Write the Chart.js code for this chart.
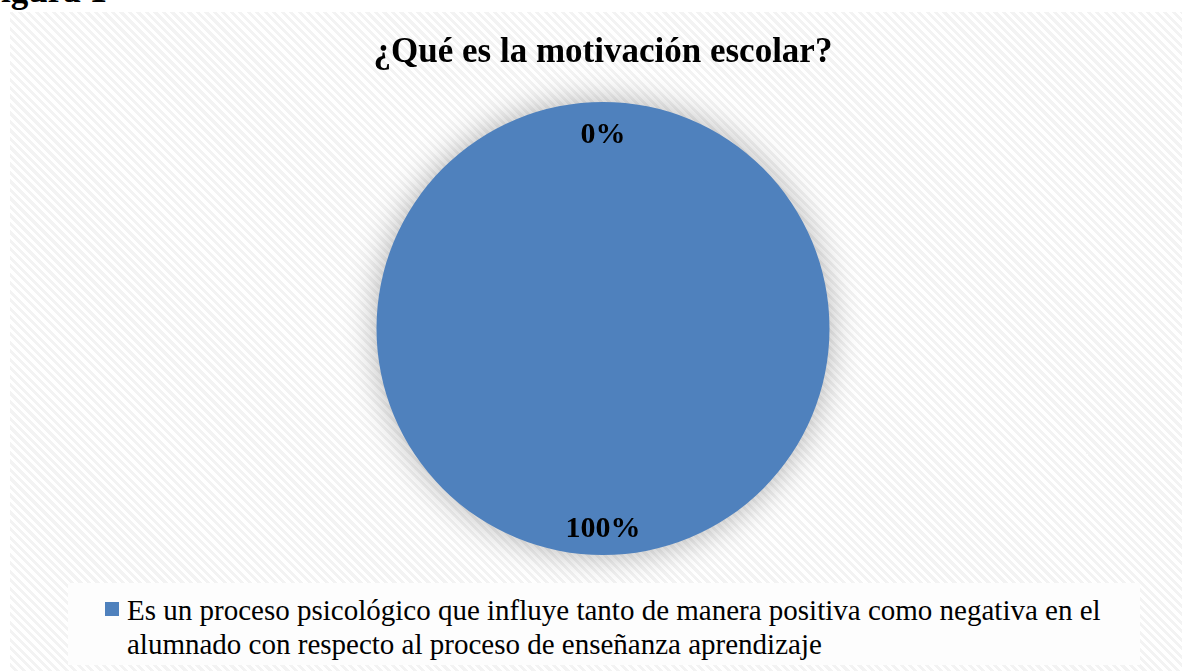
<!DOCTYPE html>
<html>
<head>
<meta charset="utf-8">
<script src="https://cdn.jsdelivr.net/npm/chart.js@4"></script>
<style>
  html, body { margin: 0; padding: 0; background: #fff; width: 1182px; height: 671px; overflow: hidden; position: relative; }
  #fig { position: absolute; right: 1075px; top: -29px; font: bold 35px "Liberation Serif", serif; white-space: nowrap; color: #000; }
  #box {
    position: absolute; left: 10px; top: 12px; width: 1186px; height: 659px;
    background: repeating-linear-gradient(45deg, #ffffff 0px, #ffffff 3px, #f3f3f3 3px, #f3f3f3 6px);
  }
  #box canvas { position: absolute; left: 0; top: 0; }
  #legend {
    position: absolute; left: 58px; top: 571px; width: 1072px; height: 82px;
    background: #fdfdfd; font: 29px "Liberation Serif", serif; color: #000; line-height: 34px;
  }
  #legend .sw { position: absolute; left: 37px; top: 19px; width: 14px; height: 14px; }
  #legend .tx { position: absolute; left: 59px; top: 10px; white-space: nowrap; }
</style>
</head>
<body>
<div id="fig">Figura 1</div>
<div id="box">
  <canvas id="myChart" width="1186" height="659"></canvas>
  <div id="legend"></div>
</div>
<script>
const title = "¿Qué es la motivación escolar?";
const categories = [
  ["Es un proceso psicológico que influye tanto de manera positiva como negativa en el",
   "alumnado con respecto al proceso de enseñanza aprendizaje"],
  ["Otro"]
];
const values = [100, 0];
const colors = ["#4f81bd", "#c0504d"];

const pieShadow = {
  id: "pieShadow",
  beforeDatasetDraw(chart) {
    const ctx = chart.ctx;
    ctx.save();
    ctx.shadowColor = "rgba(0,0,0,0.3)";
    ctx.shadowBlur = 32;
    ctx.shadowOffsetX = 0;
    ctx.shadowOffsetY = 0;
  },
  afterDatasetDraw(chart) {
    chart.ctx.restore();
  }
};

const pctLabels = {
  id: "pctLabels",
  afterDatasetsDraw(chart) {
    const ctx = chart.ctx;
    const total = values.reduce((a, b) => a + b, 0);
    chart.getDatasetMeta(0).data.forEach((arc, i) => {
      const mid = (arc.startAngle + arc.endAngle) / 2;
      const r = arc.outerRadius * 0.87;
      const x = arc.x + Math.cos(mid) * r;
      const y = arc.y + Math.sin(mid) * r + 4;
      ctx.save();
      ctx.font = "bold 30px 'Liberation Serif', serif";
      ctx.fillStyle = "#000";
      ctx.textAlign = "center";
      ctx.textBaseline = "middle";
      ctx.fillText(Math.round(values[i] / total * 100) + "%", x, y);
      ctx.restore();
    });
  }
};

const chart = new Chart(document.getElementById("myChart"), {
  type: "pie",
  data: {
    labels: categories,
    datasets: [{
      data: values,
      backgroundColor: colors,
      borderWidth: 0
    }]
  },
  options: {
    responsive: false,
    animation: false,
    events: [],
    layout: { padding: { top: 0, bottom: 116 } },
    plugins: {
      legend: { display: false },
      tooltip: { enabled: false },
      title: {
        display: true,
        text: title,
        color: "#000",
        font: { family: "'Liberation Serif', serif", size: 35, weight: "bold", lineHeight: 1.2 },
        padding: { top: 20, bottom: 28 }
      }
    }
  },
  plugins: [pieShadow, pctLabels]
});

// legend: only the first category is shown
const leg = document.getElementById("legend");
const sw = document.createElement("div");
sw.className = "sw";
sw.style.background = colors[0];
const tx = document.createElement("div");
tx.className = "tx";
tx.innerHTML = categories[0].join("<br>");
leg.appendChild(sw);
leg.appendChild(tx);
</script>
</body>
</html>
